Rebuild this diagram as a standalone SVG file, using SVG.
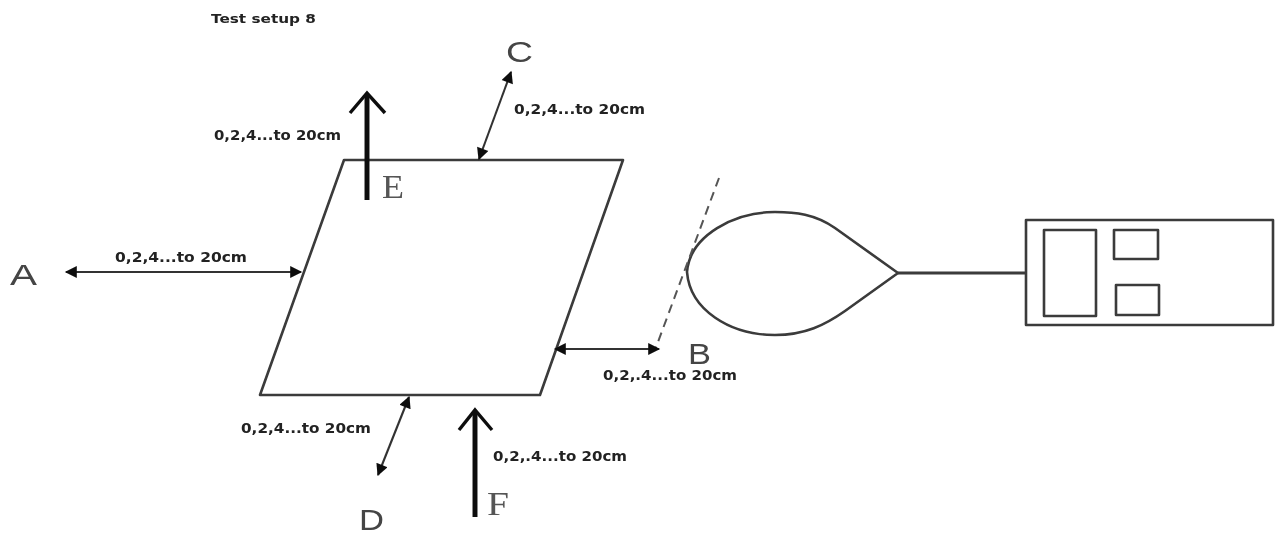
<svg xmlns="http://www.w3.org/2000/svg" width="1280" height="536" viewBox="0 0 1280 536">
<style>
.bg{fill:#fff}
.ln{fill:none;stroke:#3a3a3a;stroke-width:2.6;stroke-linejoin:round}
.dim{fill:none;stroke:#333;stroke-width:2.1;marker-start:url(#tri);marker-end:url(#tri)}
.big{fill:none;stroke:#111;stroke-width:5}
.open{fill:none;stroke:#111;stroke-width:3.4}
.dash{fill:none;stroke:#555;stroke-width:2;stroke-dasharray:9 6}
.lab{font-family:"DejaVu Sans","Liberation Sans",sans-serif;font-size:13.5px;font-weight:bold;fill:#222}
.sans{font-family:"Liberation Sans",Arial,sans-serif;font-size:30px;fill:#444}
.serif{font-family:"Liberation Serif","Times New Roman",serif;font-size:33px;fill:#555}
</style>
<defs>
<marker id="tri" viewBox="0 0 10 10" refX="9" refY="5" markerUnits="userSpaceOnUse" markerWidth="14" markerHeight="12" orient="auto-start-reverse"><path d="M0 0L10 5L0 10Z" fill="#111"/></marker>
<filter id="soft" x="-2%" y="-2%" width="104%" height="104%"><feGaussianBlur stdDeviation="0.7"/></filter>
</defs>
<rect class="bg" width="1280" height="536"/>
<g filter="url(#soft)">
<g id="title"><text class="lab" x="211" y="23" style="font-size:11.5px" textLength="105" lengthAdjust="spacingAndGlyphs">Test setup 8</text></g>
<g id="sample"><path class="ln" d="M344 160H623L540 395H260Z"/></g>
<g id="probe">
<path class="ln" d="M898 273L835 228C815 214 795 212 775 212C735 212 690 235 687 272C690 310 730 335 775 335C805 335 825 325 845 311Z"/>
<path class="dash" d="M719 178L655 350"/>
</g>
<g id="meter">
<rect class="ln" x="1026" y="220" width="247" height="105"/>
<rect class="ln" x="1044" y="230" width="52" height="86"/>
<rect class="ln" x="1114" y="230" width="44" height="29"/>
<rect class="ln" x="1116" y="285" width="43" height="30"/>
</g>
<g id="connectors">
<path class="ln" d="M898 273H1026" style="stroke-width:3"/>
<path class="dim" d="M66 272H301"/>
<path class="dim" d="M555 349H659"/>
<path class="dim" d="M511 72L479 159"/>
<path class="dim" d="M409 397L378 475"/>
<path class="big" d="M367 200V95"/>
<path class="open" d="M350 113L367 93L385 113"/>
<path class="big" d="M475 517V411"/>
<path class="open" d="M459 430L475 410L492 430"/>
</g>
<g id="label-a"><text class="sans" x="10" y="285" textLength="27" lengthAdjust="spacingAndGlyphs">A</text><text class="lab" x="115" y="262" textLength="132" lengthAdjust="spacingAndGlyphs">0,2,4...to 20cm</text></g>
<g id="label-b"><text class="sans" x="688" y="364" textLength="23" lengthAdjust="spacingAndGlyphs">B</text><text class="lab" x="603" y="380" textLength="134" lengthAdjust="spacingAndGlyphs">0,2,.4...to 20cm</text></g>
<g id="label-c"><text class="sans" x="506" y="62" textLength="27" lengthAdjust="spacingAndGlyphs">C</text><text class="lab" x="514" y="114" textLength="131" lengthAdjust="spacingAndGlyphs">0,2,4...to 20cm</text></g>
<g id="label-d"><text class="sans" x="359" y="530" textLength="25" lengthAdjust="spacingAndGlyphs">D</text><text class="lab" x="241" y="433" textLength="130" lengthAdjust="spacingAndGlyphs">0,2,4...to 20cm</text></g>
<g id="label-e"><text class="serif" x="382" y="198" textLength="22" lengthAdjust="spacingAndGlyphs">E</text><text class="lab" x="214" y="140" textLength="127" lengthAdjust="spacingAndGlyphs">0,2,4...to 20cm</text></g>
<g id="label-f"><text class="serif" x="487" y="515" textLength="22" lengthAdjust="spacingAndGlyphs">F</text><text class="lab" x="493" y="461" textLength="134" lengthAdjust="spacingAndGlyphs">0,2,.4...to 20cm</text></g>
</g>
</svg>
